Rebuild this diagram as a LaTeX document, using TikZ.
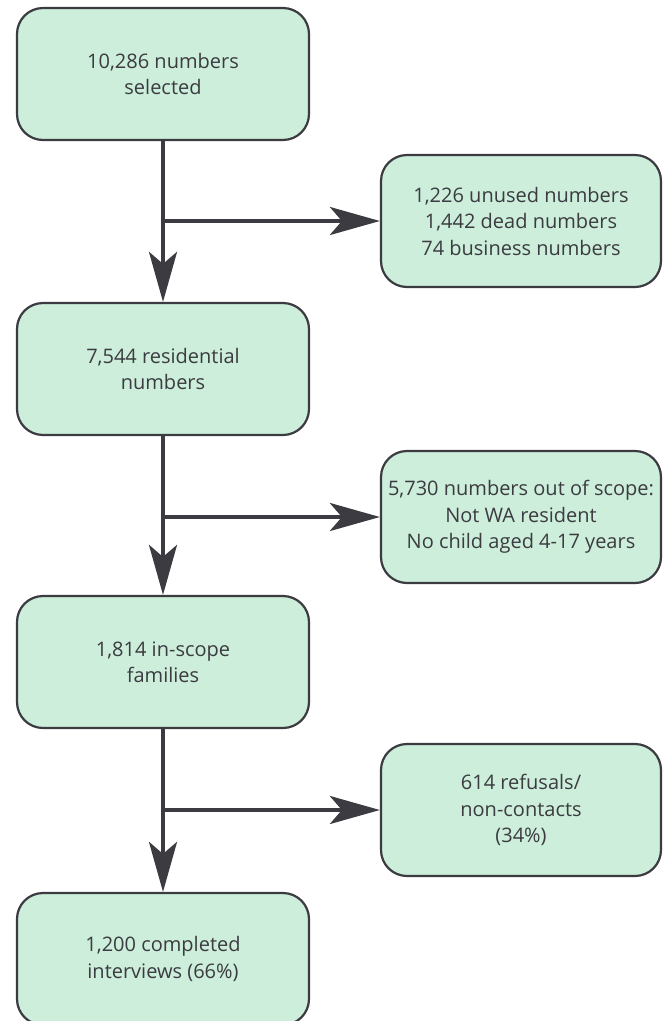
\documentclass[tikz,border=0pt]{standalone}
\usepackage{fontspec}
\setmainfont{Open Sans}
\usetikzlibrary{arrows.meta}
\definecolor{boxfill}{HTML}{CCEEDA}
\definecolor{ink}{HTML}{3B3B41}
\tikzset{
  stage/.style={draw=ink, line width=2.2pt, fill=boxfill, rounded corners=26pt,
    minimum width=292pt, minimum height=132pt, align=center, text=ink,
    font=\fontsize{20}{26.5}\selectfont},
  drop/.style={stage, minimum width=280pt},
  flow/.style={draw=ink, line width=4pt, -{Stealth[length=50pt,width=28pt,inset=12pt]}}
}
\begin{document}
\begin{tikzpicture}[x=1pt,y=-1pt]
   \useasboundingbox (0,0) rectangle (662,1021);
   \node[stage] (sel) at (163,74) {10,286 numbers\\selected};
   \node[stage] (res) at (163,369) {7,544 residential\\numbers};
   \node[stage] (fam) at (163,662) {1,814 in-scope\\families};
   \node[stage] (done) at (163,959) {1,200 completed\\interviews (66\%)};

   \node[drop] (unused) at (521,221) {1,226 unused numbers\\1,442 dead numbers\\74 business numbers};
   \node[drop] (scope) at (521,517) {5,730 numbers out of scope:\\Not WA resident\\No child aged 4-17 years};
   \node[drop] (refus) at (521,810) {614 refusals/\\non-contacts\\(34\%)};

   \draw[flow] (sel) -- (res);
   \draw[flow] (res) -- (fam);
   \draw[flow] (fam) -- (done);

   \draw[flow] (sel.south |- unused) -- (unused);
   \draw[flow] (res.south |- scope) -- (scope);
   \draw[flow] (fam.south |- refus) -- (refus);
\end{tikzpicture}
\end{document}
